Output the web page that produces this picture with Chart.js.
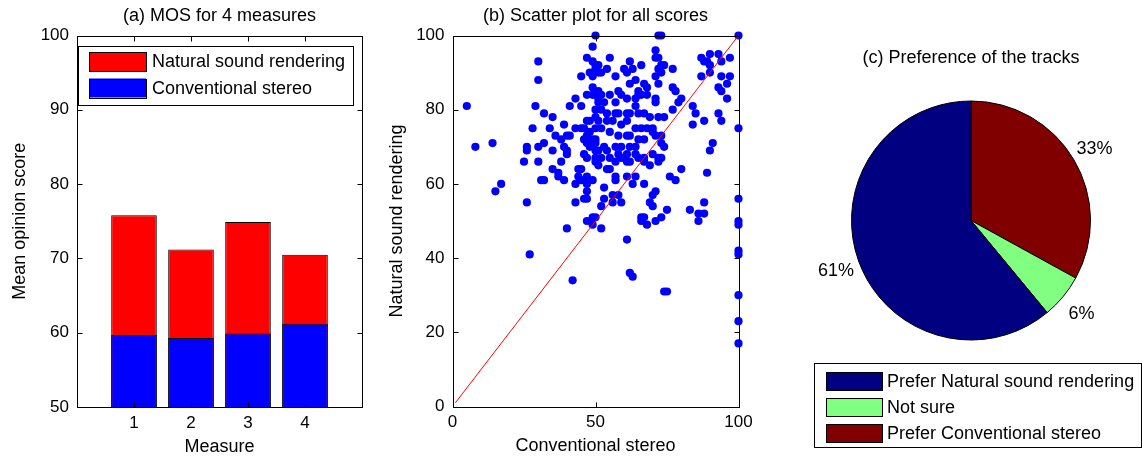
<!DOCTYPE html>
<html>
<head>
<meta charset="utf-8">
<script src="https://cdn.jsdelivr.net/npm/chart.js@4"></script>
<style>
  html, body { margin: 0; padding: 0; background: #fff; }
  body { width: 1142px; height: 460px; position: relative; overflow: hidden; }
  .panel { position: absolute; top: 0; height: 460px; }
  #p1 { left: 0; width: 380px; }
  #p2 { left: 380px; width: 380px; }
  #p3 { left: 760px; width: 382px; }
</style>
</head>
<body>
<div class="panel" id="p1"><canvas id="bars"></canvas></div>
<div class="panel" id="p2"><canvas id="scatter"></canvas></div>
<div class="panel" id="p3"><canvas id="pie"></canvas></div>
<script>
// (a) MOS per measure
const measures = [1, 2, 3, 4];
const naturalMos = [75.8, 71.2, 74.9, 70.5];
const conventionalMos = [59.7, 59.3, 59.9, 61.2];
const mosTicks = [50, 60, 70, 80, 90, 100];

// (b) all scores, one entry per rating
const conventionalScores = [
  50,49,30,30,49,50,51,49,50,45, 49,51,5,29,41,45,43,32,35,28,
  34,39,43,45,46,47,50,36,40,38, 41,8,14,26,26,30,32,35,39,40,
  40,46,47,48,50,47,50,25,30,38, 50,35,37,37,39,44,45,44,45,47,
  49,47,31,32,17,15,43,47,46,47, 26,43,49,47,49,40,27,42,
  51,54,55,57,57,61,64,53,63,67, 69,73,72,80,76,78,89,53,56,58,
  52,56,59,50,52,71,70,69,70,75, 66,67,66,68,71,73,83,88,86,88,
  86,61,62,63,100,100,100,100,100,74, 75,100,100,100,
  72,73,100,71,71,72,73,74,55,51, 62,66,60,63,54,52,57,61,72,71,
  73,77,87,88,90,89,90,93,94,97, 87,90,94,97,93,94,96,96,64,62,
  67,68,65,66,72,77,78,80,79,71, 71,77,84,85,93,94,88,84,100,91,
  90,73,73,74,70,71,72,
  51,52,55,58,59,57,53,51,50,61, 64,64,65,68,50,52,54,57,58,61,
  62,65,67,69,72,74,51,54,56,59, 61,64,66,68,70,52,55,58,61,62,
  65,67,50,53,57,59,62,64,51,54, 58,61,64,67,70,52,55,59,62,57,
  60,61,65,67,47,48,49,47,48,50, 47,49,48,50,46
];
const naturalScores = [
  100,97,93,88,93,92,90,89,91,89, 84,82,81,81,81,81,83,79,78,75,
  75,76,75,75,75,77,78,73,73,72, 73,70,71,70,69,70,71,69,70,69,
  68,72,71,74,72,67,67,66,66,66, 66,64,63,62,61,64,64,62,61,62,
  61,60,61,61,60,58,60,58,56,56, 55,55,51,50,49,48,41,34,
  65,64,64,62,61,62,62,59,60,60, 65,67,66,64,62,61,63,56,57,57,
  54,55,55,51,48,58,57,55,54,53, 51,51,50,49,50,51,53,55,52,52,
  50,45,36,35,56,50,49,42,41,31, 31,30,23,17,
  100,100,100,96,94,94,92,92,94,92, 93,92,91,91,91,90,89,90,91,89,
  90,91,94,93,95,93,92,95,93,94, 89,90,89,89,86,85,83,87,88,87,
  87,86,85,84,87,86,85,83,82,83, 82,80,81,79,79,77,77,76,75,71,
  69,73,71,70,75,73,67,
  85,84,84,85,84,82,82,83,84,83, 83,81,84,84,80,80,79,79,79,79,
  79,79,79,78,78,78,77,77,77,76, 77,75,75,75,74,75,74,73,73,73,
  72,72,71,70,70,70,70,70,69,69, 68,68,68,67,68,67,67,67,66,66,
  67,66,67,66,94,90,86,84,77,75, 73,72,70,69,68
];
const identityRange = [1, 100];
const scoreTicksX = [0, 50, 100];
const scoreTicksY = [0, 20, 40, 60, 80, 100];

// (c) preference of the tracks (percent)
const preferenceLabels = ['Prefer Natural sound rendering', 'Not sure', 'Prefer Conventional stereo'];
const preferenceShares = [61, 6, 33];
const preferenceColors = ['#000080', '#80ff80', '#800000'];

const FONT = '"Liberation Sans", Arial, sans-serif';
Chart.defaults.font.family = FONT;
Chart.defaults.font.size = 17;
Chart.defaults.color = '#000';

// matlab look: box, inward ticks, title, boxed legend, pie labels
const matlabAxes = {
  id: 'matlabAxes',
  afterDraw(chart, args, opts) {
    const ctx = chart.ctx;
    const a = chart.chartArea;
    ctx.save();
    ctx.strokeStyle = '#000';
    ctx.fillStyle = '#000';
    ctx.lineWidth = 1;
    if (opts.box) {
      const L = Math.round(a.left) + 0.5, R = Math.round(a.right) + 0.5;
      const T = Math.round(a.top) + 0.5, B = Math.round(a.bottom) + 0.5;
      ctx.strokeRect(L, T, R - L, B - T);
      const len = 5;
      ctx.beginPath();
      const sx = chart.scales.x, sy = chart.scales.y;
      sx.ticks.forEach(t => {
        const p = Math.round(sx.getPixelForValue(t.value)) + 0.5;
        ctx.moveTo(p, B); ctx.lineTo(p, B - len);
        ctx.moveTo(p, T); ctx.lineTo(p, T + len);
      });
      sy.ticks.forEach(t => {
        const p = Math.round(sy.getPixelForValue(t.value)) + 0.5;
        ctx.moveTo(L, p); ctx.lineTo(L + len, p);
        ctx.moveTo(R, p); ctx.lineTo(R - len, p);
      });
      ctx.stroke();
    }
    if (opts.title) {
      ctx.font = '18px ' + FONT;
      ctx.textAlign = 'center';
      ctx.textBaseline = 'middle';
      const tx = opts.titleX != null ? opts.titleX : (a.left + a.right) / 2;
      ctx.fillText(opts.title, tx, opts.titleY);
    }
    if (opts.pieLabels) {
      const meta = chart.getDatasetMeta(0);
      const vals = chart.data.datasets[0].data;
      ctx.font = '18px ' + FONT;
      ctx.textAlign = 'center';
      ctx.textBaseline = 'middle';
      meta.data.forEach((arc, i) => {
        const p = arc.getProps(['x', 'y', 'startAngle', 'endAngle', 'outerRadius'], true);
        const mid = (p.startAngle + p.endAngle) / 2;
        const r = p.outerRadius * 1.2;
        ctx.fillText(vals[i] + '%', p.x + Math.cos(mid) * r, p.y + Math.sin(mid) * r + 2);
      });
    }
    if (opts.legend) {
      const lg = opts.legend;
      ctx.fillStyle = '#fff';
      ctx.fillRect(lg.x, lg.y, lg.w, lg.h);
      ctx.strokeRect(lg.x + 0.5, lg.y + 0.5, lg.w, lg.h);
      ctx.font = '18px ' + FONT;
      ctx.textAlign = 'left';
      ctx.textBaseline = 'middle';
      lg.items.forEach((it, i) => {
        const cy = lg.rows[i];
        ctx.fillStyle = it.color;
        ctx.fillRect(lg.swX, cy - lg.swH / 2, lg.swW, lg.swH);
        ctx.strokeRect(lg.swX + 0.5, Math.round(cy - lg.swH / 2) + 0.5, lg.swW, lg.swH);
        ctx.fillStyle = '#000';
        ctx.fillText(it.label, lg.textX, cy + 1);
      });
    }
    ctx.restore();
  }
};
Chart.register(matlabAxes);

// ---------- (a) bars ----------
const barDatasets = [
  {
    label: 'Natural sound rendering',
    data: measures.map((m, i) => ({ x: m, y: naturalMos[i] })),
    backgroundColor: '#ff0000', order: 2
  },
  {
    label: 'Conventional stereo',
    data: measures.map((m, i) => ({ x: m, y: conventionalMos[i] })),
    backgroundColor: '#0000ff', order: 1
  }
];
barDatasets.forEach(d => Object.assign(d, {
  borderColor: '#000', borderWidth: 1, grouped: false,
  barPercentage: 0.8, categoryPercentage: 1
}));

new Chart(document.getElementById('bars'), {
  type: 'bar',
  data: { datasets: barDatasets },
  options: {
    responsive: true, maintainAspectRatio: false, animation: false,
    layout: { padding: { top: 35.5, right: 18, left: 0, bottom: 0 } },
    scales: {
      x: {
        type: 'linear', min: 0, max: 5, offset: false,
        afterBuildTicks: s => { s.ticks = measures.map(v => ({ value: v })); },
        afterFit: s => { s.height = 53; },
        grid: { display: false, drawTicks: false }, border: { display: false },
        ticks: { padding: 6 },
        title: { display: true, text: 'Measure', font: { size: 18 }, padding: { top: 0, bottom: 2.5 } }
      },
      y: {
        min: 50, max: 100,
        afterBuildTicks: s => { s.ticks = mosTicks.map(v => ({ value: v })); },
        afterFit: s => { s.width = 77; },
        grid: { display: false, drawTicks: false }, border: { display: false },
        ticks: { padding: 8 },
        title: { display: true, text: 'Mean opinion score', font: { size: 18 }, padding: { top: 9, bottom: 0 } }
      }
    },
    plugins: {
      legend: { display: false },
      tooltip: { enabled: false },
      matlabAxes: {
        box: true, title: '(a) MOS for 4 measures', titleY: 16,
        legend: {
          x: 78, y: 46, w: 275, h: 59, swX: 89, swW: 57, swH: 19, textX: 152,
          rows: [61.5, 88],
          items: barDatasets.map(d => ({ label: d.label, color: d.backgroundColor }))
        }
      }
    }
  }
});

// ---------- (b) scatter ----------
new Chart(document.getElementById('scatter'), {
  type: 'scatter',
  data: {
    datasets: [
      {
        type: 'line', label: 'y = x',
        data: identityRange.map(v => ({ x: v, y: v })),
        borderColor: '#ff0000', borderWidth: 1, pointRadius: 0, showLine: true, order: 1
      },
      {
        label: 'scores',
        data: conventionalScores.map((c, i) => ({ x: c, y: naturalScores[i] })),
        backgroundColor: '#0000ff', borderWidth: 0, pointRadius: 4.1, clip: false, order: 2
      }
    ]
  },
  options: {
    responsive: true, maintainAspectRatio: false, animation: false,
    layout: { padding: { top: 35.5, right: 21.5, left: 0, bottom: 0 } },
    scales: {
      x: {
        type: 'linear', min: 0, max: 100,
        afterBuildTicks: s => { s.ticks = scoreTicksX.map(v => ({ value: v })); },
        afterFit: s => { s.height = 53.5; },
        grid: { display: false, drawTicks: false }, border: { display: false },
        ticks: { padding: 6 },
        title: { display: true, text: 'Conventional stereo', font: { size: 18 }, padding: { top: 0, bottom: 3 } }
      },
      y: {
        type: 'linear', min: 0, max: 100,
        afterBuildTicks: s => { s.ticks = scoreTicksY.map(v => ({ value: v })); },
        afterFit: s => { s.width = 72.5; },
        grid: { display: false, drawTicks: false }, border: { display: false },
        ticks: { padding: 8 },
        title: { display: true, text: 'Natural sound rendering', font: { size: 18 }, padding: { top: 6, bottom: 0 } }
      }
    },
    plugins: {
      legend: { display: false },
      tooltip: { enabled: false },
      matlabAxes: { box: true, title: '(b) Scatter plot for all scores', titleY: 16 }
    }
  }
});

// ---------- (c) pie ----------
// matlab runs counter-clockwise from the top, chart.js clockwise: feed reversed
new Chart(document.getElementById('pie'), {
  type: 'pie',
  data: {
    labels: preferenceLabels.slice().reverse(),
    datasets: [{
      data: preferenceShares.slice().reverse(),
      backgroundColor: preferenceColors.slice().reverse(),
      borderColor: '#000', borderWidth: 1
    }]
  },
  options: {
    responsive: true, maintainAspectRatio: false, animation: false,
    layout: { padding: { left: 91, right: 51, top: 100.5, bottom: 119.5 } },
    plugins: {
      legend: { display: false },
      tooltip: { enabled: false },
      matlabAxes: {
        title: '(c) Preference of the tracks', titleX: 211, titleY: 58,
        pieLabels: true,
        legend: {
          x: 54, y: 363, w: 327, h: 84, swX: 66, swW: 56, swH: 18, textX: 127,
          rows: [381, 407, 433],
          items: preferenceLabels.map((l, i) => ({ label: l, color: preferenceColors[i] }))
        }
      }
    }
  }
});
</script>
</body>
</html>
